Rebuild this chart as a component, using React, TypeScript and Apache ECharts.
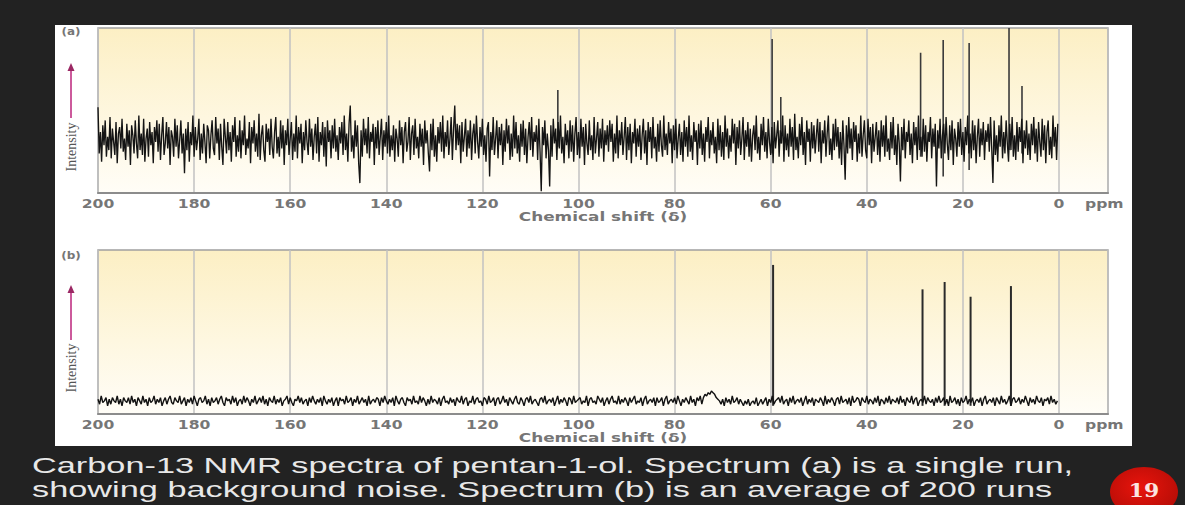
import React, { useEffect, useRef } from "react";
import * as echarts from "echarts";

// ---------- data ----------
// x axis: chemical shift in ppm (reversed, 200 on the left), axis runs a little past 0
const axisMin = -10.2;
const axisMax = 200;
const tickLabels = [200, 180, 160, 140, 120, 100, 80, 60, 40, 20, 0];

// Spectrum (a): single run, noise deviations around a baseline (sampled every 0.25 ppm from 200)
const baseA = 32;
const stepA = 0.25;
const noiseA = [
  20, -8, 5, -13, 9, -3, 12, -10, 2, -6, 14, -11, 7, -1, -9, 11, -14, 4, 8, -5, 13, -7, 1, -12, 10,
  -4, 6, -15, 9, 3, -8, 12, -2, -11, 15, -6, 4, -9, 13, -13, 1, 7, -10, 11, -3, 5, -14, 8, -1, 12,
  -7, 10, -12, 3, 14, -9, -2, 11, -5, 8, -15, 6, 2, -10, 13, -4, 9, -11, 0, 12, -8, 4, -20, 7, -6,
  11, -13, 5, -3, 15, -10, 8, -6, 1, 13, -12, 4, -8, 10, -1, -14, 9, 6, -11, 3, 12, -5, -9, 14, -2,
  7, -12, 10, -4, -15, 13, 2, -8, 11, -6, 5, -13, 9, -1, 14, -10, 3, -7, 12, -11, 6, -3, 15, -9, 1,
  -5, 11, -14, 8, -2, 12, -7, 4, -10, 16, -12, 3, 9, -6, -13, 10, -1, 7, -9, 13, -4, -11, 5, 14, -8,
  2, -10, 12, -5, 9, -15, 6, -3, 13, -9, 1, 11, -12, 4, -7, 15, -11, 8, -2, 10, -14, 5, -6, 12, -1,
  -9, 13, -4, 7, -12, 2, 10, -8, 14, -13, 5, -3, 11, -10, 8, -16, 12, -1, 6, -11, 9, -5, 13, -7, 3,
  -12, 8, -2, 11, -9, 15, -6, 4, -13, 10, 21, -7, 3, -11, 12, -4, 9, -14, -26, 6, -10, 13, -3, 7, -8,
  14, -11, 5, -1, 10, -15, 8, -5, 12, -9, 2, 13, -12, 6, -4, 11, -8, 15, -10, 3, -6, 9, -13, 7, 1,
  -10, 12, -3, 8, -14, 5, 11, -7, -1, 14, -12, 4, 9, -9, 13, -5, 2, -11, 10, -4, 7, -15, 12, -2, 6,
  -8, -19, 10, -6, 13, -10, 3, -13, 8, -2, 11, -7, 15, -11, 5, -4, 12, -9, 1, 14, -12, 7, 21, -6, 10,
  -3, 9, -14, 11, -7, 2, 13, -10, 6, -5, 12, -12, 4, 10, -8, 15, -1, -11, 8, -4, 13, -9, 3, -13, 7,
  11, -22, 5, -6, 14, -9, 1, 12, -11, 8, -3, 10, -15, 6, -7, 13, -2, 9, -12, 4, -10, 15, -5, 11, -8,
  3, -13, 10, -4, 12, -9, 7, -14, 2, 11, -6, 14, -10, 5, -1, 9, -12, 13, -7, -31, 8, -3, 12, -11, 4,
  -6, -28, 9, -10, 13, -2, 7, -12, 11, -5, 15, -8, 2, -14, 10, -3, 6, -11, 12, -7, 9, -13, 4, 14, -9,
  5, -11, 13, -4, 8, -15, 10, -2, -9, 12, -6, 3, -12, 14, -8, 1, 11, -10, 7, -5, 13, -13, 6, -3, 9,
  -7, 12, -1, 10, -13, 4, -8, 15, -11, 6, -3, 11, -9, 2, 14, -12, 8, -6, 10, -14, 5, -2, 13, -10, 7,
  -4, 9, -12, 3, 13, -8, 6, -15, 11, -1, 8, -11, 14, -5, 2, -13, 10, -7, 12, -3, -10, 15, -6, 4, -9,
  11, -2, 7, -14, 9, -6, 13, -11, 1, 10, -9, 5, -13, 12, -4, 8, -10, 15, -7, 3, -12, 11, -1, 6, -15,
  10, -5, 12, -9, 4, -13, 8, -1, 14, -11, 6, -3, 11, -8, 2, -14, 13, -6, 9, -10, 5, -12, 15, -4, 7,
  -11, 3, -7, 13, -2, 10, -15, 8, -5, 12, -9, 1, 14, -12, 6, -4, 11, -10, 7, -13, 3, 9, -6, 15, -8,
  2, -12, 10, -3, 14, -7, 5, -11, 13, -1, -9, 8, -14, 11, -5, 3, 12, -10, 6, -2, 15, -13, 9, -6, 4,
  -10, 13, -4, 8, -12, 16, -6, 2, -11, 10, -3, 14, -9, 5, -15, 12, -1, 7, -13, 11, -5, 9, -8, 3, 13,
  -7, 11, -14, 6, -2, 12, -10, 4, 15, -9, 1, -12, 10, -6, 13, -4, 8, -11, 5, -15, 12, -3, -24, 9, -8,
  14, -5, 7, -12, 11, -1, 9, -13, 4, -8, 15, -10, 3, 12, -6, -11, 13, -3, 8, -14, 10, -7, 2, 11, -9,
  6, -13, 12, -4, 9, -10, 15, -7, 1, -12, 11, -5, 14, -9, 3, -15, 10, -2, -25, 8, -6, 13, -11, 5, -1,
  12, -9, 4, -14, 11, -3, 8, -12, 15, -6, 2, -10, 13, -7, 9, -13, 5, -1, 14, -11, 7, -4, 10, -28, 6,
  -5, 13, -11, 3, 10, -8, 14, -2, -12, 9, -6, 12, -15, 7, 1, -10, 11, -4, 13, -9, 5, -13, 8, -3, 15,
  -8, 4, -11, 12, -6, 9, -14, 2, 13, -10, 7, -3, 11, -12, 6, -1, 10, -7, 14, -5, -26, 12, -9, 3, -13,
  9, -4, 15, -11, 5, -8, 12, -2, -13, 10, -6, 14, -10, 3, -12, 11, -7, 8, -1, 13, -14, 6, -5, 12, -9,
  4, -12, 10, -3, 14, -8, 7, -13, 11, -1, -10, 13, -6, 9, -14, 5, 12, -9, 2, -11, 15, -4, 8, -12, 10,
];
// peaks of spectrum (a): shift (ppm), top, bottom of the stick
const peaksAppm = [104.3, 59.7, 57.9, 28.8, 24.1, 18.7, 10.4, 7.7];
const peaksAtop = [62.4, 93.3, 58.2, 85, 92.7, 90.9, 100, 64.8];
const peaksAlow = [28, 24, 30, 22, 10, 14, 26, 24];

// Spectrum (b): average of 200 runs, sampled every 1/3 ppm from 200
const baseB = 8;
const stepB = 1 / 3;
const noiseB = [
  1, -2, 3, -1, 0, 2, -3, 1, -2, 2, 0, -1, 3, -2, 1, -3, 2, 0, -1, 2, -2, 3, -1, 1, -3,
  2, 0, -2, 3, -1, 1, -3, 2, -1, 0, 3, -2, 1, -1, 2, -3, 0, 2, -2, 1, 3, -1, -2, 2, 0,
  -1, 3, -2, 0, 2, -3, 1, -1, 2, -2, 3, 0, -3, 1, 2, -1, 0, 3, -2, 1, -3, 2, -1, 0, 2,
  -2, 1, 3, -1, -3, 2, 0, 1, -2, 3, -1, 2, -3, 0, 1, -2, 3, -1, 2, 0, -3, 1, -1, 3, -2,
  0, 2, -1, 3, -2, 1, -3, 2, 0, -1, 3, -2, 1, -1, 2, -3, 0, 1, 3, -2, 2, -1, -3, 1, 0,
  3, -1, 2, -2, 0, 1, -3, 2, -1, 3, 0, -2, 1, -1, 2, -3, 3, 0, -2, 1, -1, 2, -3, 0, 2,
  -3, 2, 0, 1, -2, 3, -1, 0, 2, -3, 1, -1, 3, -2, 0, 2, -1, 1, -3, 3, -2, 0, 1, -1, 2,
  1, -3, 2, -1, 3, 0, -2, 1, -1, 2, -3, 3, 0, -2, 1, 2, -1, -3, 2, 0, 1, -2, 3, -1, 0,
  -2, 3, -1, 2, 0, -3, 1, -2, 3, -1, 1, 0, -2, 2, -3, 1, 3, -1, 0, -2, 2, -1, 1, -3, 2,
  0, -1, 3, -2, 1, 2, -3, 0, -1, 3, -2, 1, 2, -1, 0, -3, 2, 1, -2, 3, -1, 0, 2, -3, 1,
  2, -2, 0, 3, -1, 1, -3, 2, 0, -2, 1, 3, -1, -2, 2, 0, -3, 1, 2, -1, 3, -2, 0, 1, -1,
  -3, 1, 2, -1, 3, -2, 0, 1, -1, 2, -3, 0, 3, -2, 1, -1, 2, 0, -3, 2, 1, -2, 3, -1, 0,
  1, 2, -2, 0, -1, 3, -3, 1, 2, -1, 0, -2, 3, 1, -1, 2, -3, 0, 2, -2, 1, 3, -1, 0, -2,
  3, -2, 1, -1, 2, 0, -3, 2, -1, 1, 3, -2, 0, -1, 2, -3, 1, 3, -2, 0, 1, -1, 2, -3, 2,
  -1, 0, 2, -3, 1, 3, -2, 0, 1, -1, 2, -2, 3, 0, -3, 1, -1, 2, 0, -2, 3, -1, 1, -3, 2,
  0, 3, -2, 2, 4, 3, 5, 4, 6, 5, 4, 2, 1, 0, -2, 1, -3, 2, -1, 1, -2, 3, -1, 0, 2,
  -2, 1, -1, -3, 0, -2, 1, -3, -1, 0, -2, 2, -3, -1, 1, -2, 0, 2, -3, 1, -1, 3, -2, 0, 1,
  2, -1, 3, -2, 0, 1, -3, 2, -1, 3, -2, 0, 1, -1, 2, -3, 0, 3, -2, 1, -1, 2, -3, 1, 0,
  -1, 2, 0, -3, 3, -2, 1, -1, 2, 0, -3, 1, 2, -2, 3, -1, 0, 1, -2, 2, -3, 3, -1, 0, 2,
  1, -3, 2, 0, -1, 3, -2, 1, 0, -2, 2, -1, 3, -3, 1, 0, -2, 2, -1, 3, -2, 1, 0, -1, 2,
  -2, 3, -1, 1, -3, 2, 0, -1, 3, -2, 1, 2, -3, 0, 1, -1, 3, -2, 2, 0, -1, 1, -3, 2, -1,
  3, -1, 0, 2, -2, 1, -3, 3, -1, 0, 2, -2, 1, -3, 2, -1, 0, 3, -2, 1, -1, 2, -3, 0, 1,
  -1, 2, -3, 1, 3, -2, 0, 1, -1, 2, -3, 2, 0, -2, 3, -1, 1, -2, 0, 3, -3, 1, 2, -1, 0,
  2, -2, 1, -1, 3, 0, -3, 2, -1, 1, -2, 3, 0, -1, 2, -3, 1, 0, 2, -2, 3, -1, 1, -2, 0,
];
const peaksBppm = [59.5, 28.4, 23.8, 18.4, 10.0];
const peaksBtop = [90.9, 76, 80.5, 71.5, 78];
const peaksBlow = [5, 5, 5, 5, 5];

const panelLabels = ["(a)", "(b)"];
const axisTitle = "Chemical shift (δ)";
const unitLabel = "ppm";
const yTitle = "Intensity";
const captionLines = [
  "Carbon-13 NMR spectra of pentan-1-ol. Spectrum (a) is a single run,",
  "showing background noise. Spectrum (b) is an average of 200 runs",
];
const pageNumber = "19";

// ---------- component ----------
export default function App() {
  const ref = useRef<HTMLDivElement>(null);

  useEffect(() => {
    if (!ref.current) return;
    const chart = echarts.init(ref.current, null, { renderer: "svg" });

    const bg = () =>
      new echarts.graphic.LinearGradient(0, 0, 0, 1, [
        { offset: 0, color: "#fcefc4" },
        { offset: 0.55, color: "#fef7e0" },
        { offset: 1, color: "#fffdf7" },
      ]);

    const xAxis = (gridIndex: number) => ({
      type: "value",
      gridIndex,
      inverse: true,
      min: axisMin,
      max: axisMax,
      splitNumber: 10,
      axisLine: { show: true, lineStyle: { color: "#8c8c8c", width: 2 } },
      axisTick: { show: false },
      axisLabel: { show: false },
      splitLine: { show: true, lineStyle: { color: "#c2c2c2", width: 1.5 } },
    });

    const yAxis = (gridIndex: number) => ({
      type: "value",
      gridIndex,
      min: 0,
      max: 100,
      show: false,
    });

    const peakRender = (color: string, width: number) => (params: any, api: any) => {
      const x = api.value(0);
      const p1 = api.coord([x, api.value(2)]);
      const p2 = api.coord([x, api.value(1)]);
      return {
        type: "line",
        shape: { x1: p1[0], y1: p1[1], x2: p2[0], y2: p2[1] },
        style: { stroke: color, lineWidth: width },
      };
    };

    const intensityLabel = (cx: number, cy: number, arrowTop: number, arrowBottom: number) => [
      {
        type: "text",
        x: cx,
        y: cy,
        rotation: Math.PI / 2,
        style: {
          text: yTitle,
          fill: "#555555",
          font: '14px "Liberation Serif"',
          align: "center",
          verticalAlign: "middle",
        },
      },
      {
        type: "line",
        shape: { x1: cx, y1: arrowBottom, x2: cx, y2: arrowTop + 6 },
        style: { stroke: "#cc5a9c", lineWidth: 2 },
      },
      {
        type: "polygon",
        shape: {
          points: [
            [cx, arrowTop],
            [cx - 3.5, arrowTop + 8],
            [cx + 3.5, arrowTop + 8],
          ],
        },
        style: { fill: "#9b2864" },
      },
    ];

    const smallText = (
      text: string,
      x: number,
      y: number,
      size: number,
      sx: number,
      align = "center"
    ) => ({
      type: "text",
      x,
      y,
      scaleX: sx,
      style: {
        text,
        fill: "#767676",
        font: `bold ${size}px "DejaVu Sans"`,
        align,
        verticalAlign: "middle",
      },
    });

    const baseGraphic: any[] = [
      {
        type: "rect",
        z: -10,
        shape: { x: 55, y: 25, width: 1077, height: 421 },
        style: { fill: "#ffffff" },
      },
      smallText(panelLabels[0], 71, 32, 10, 1.2),
      smallText(panelLabels[1], 71, 256, 10, 1.2),
      ...intensityLabel(71, 147, 63, 118),
      ...intensityLabel(71, 368, 285, 340),
      smallText(axisTitle, 603, 217, 13, 1.3),
      smallText(axisTitle, 603, 438, 13, 1.3),
      {
        type: "text",
        x: 32,
        y: 465.5,
        scaleX: 1.56,
        style: {
          text: captionLines[0],
          fill: "#e8e8e8",
          font: '22px "Liberation Sans"',
          align: "left",
          verticalAlign: "middle",
        },
      },
      {
        type: "text",
        x: 32,
        y: 489,
        scaleX: 1.56,
        style: {
          text: captionLines[1],
          fill: "#e8e8e8",
          font: '22px "Liberation Sans"',
          align: "left",
          verticalAlign: "middle",
        },
      },
      {
        type: "ellipse",
        shape: { cx: 1144, cy: 492, rx: 34, ry: 25 },
        style: {
          fill: new echarts.graphic.RadialGradient(0.45, 0.4, 0.7, [
            { offset: 0, color: "#e8140c" },
            { offset: 1, color: "#b00c06" },
          ]),
        },
      },
      {
        type: "text",
        x: 1144,
        y: 490.5,
        scaleX: 1.15,
        style: {
          text: pageNumber,
          fill: "#fbe4e0",
          font: 'bold 19px "DejaVu Serif"',
          align: "center",
          verticalAlign: "middle",
        },
      },
    ];

    const option: any = {
      animation: false,
      backgroundColor: "#222222",
      grid: [
        {
          left: 98,
          top: 28,
          width: 1010,
          height: 165,
          show: true,
          borderColor: "#a0a0a0",
          borderWidth: 1.5,
          backgroundColor: bg(),
        },
        {
          left: 98,
          top: 250,
          width: 1010,
          height: 164,
          show: true,
          borderColor: "#a0a0a0",
          borderWidth: 1.5,
          backgroundColor: bg(),
        },
      ],
      xAxis: [xAxis(0), xAxis(1)],
      yAxis: [yAxis(0), yAxis(1)],
      series: [
        {
          type: "line",
          xAxisIndex: 0,
          yAxisIndex: 0,
          symbol: "none",
          silent: true,
          lineStyle: { color: "#141414", width: 1.35 },
          data: noiseA.map((v, i) => [axisMax - i * stepA, baseA + v]),
        },
        {
          type: "custom",
          xAxisIndex: 0,
          yAxisIndex: 0,
          silent: true,
          encode: { x: 0, y: [1, 2] },
          renderItem: peakRender("#3a3a3a", 1.6),
          data: peaksAppm.map((p, i) => [p, peaksAtop[i], peaksAlow[i]]),
        },
        {
          type: "line",
          xAxisIndex: 1,
          yAxisIndex: 1,
          symbol: "none",
          silent: true,
          lineStyle: { color: "#121212", width: 1.4 },
          data: noiseB.map((v, i) => [axisMax - i * stepB, baseB + v]),
        },
        {
          type: "custom",
          xAxisIndex: 1,
          yAxisIndex: 1,
          silent: true,
          encode: { x: 0, y: [1, 2] },
          renderItem: peakRender("#2a2a2a", 2),
          data: peaksBppm.map((p, i) => [p, peaksBtop[i], peaksBlow[i]]),
        },
      ],
      graphic: baseGraphic,
    };

    chart.setOption(option);

    // tick labels (and unit) placed through the axes' own scales
    const tickGraphic: any[] = [];
    [0, 1].forEach((g) => {
      const yBottom = chart.convertToPixel({ yAxisIndex: g }, 0) as number;
      tickLabels.forEach((t) => {
        const px = chart.convertToPixel({ xAxisIndex: g }, t) as number;
        tickGraphic.push(smallText(String(t), px, yBottom + 10.5, 12, 1.3));
      });
      const p0 = chart.convertToPixel({ xAxisIndex: g }, 0) as number;
      tickGraphic.push(smallText(unitLabel, p0 + 26, yBottom + 10.5, 12, 1.3, "left"));
    });
    chart.setOption({ graphic: [...baseGraphic, ...tickGraphic] });

    return () => chart.dispose();
  }, []);

  return (
    <div
      ref={ref}
      style={{ position: "fixed", left: 0, top: 0, width: 1185, height: 505 }}
    />
  );
}
